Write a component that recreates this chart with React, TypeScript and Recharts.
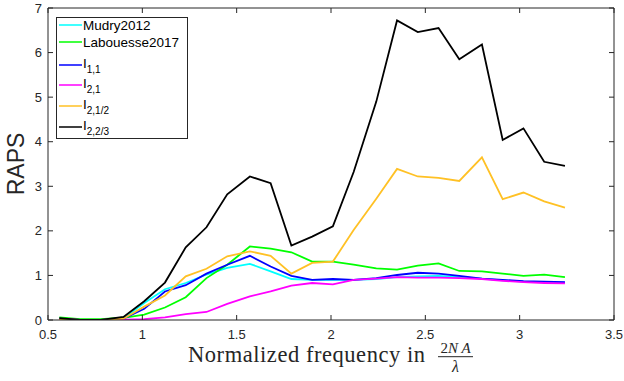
import React from "react";
import { LineChart, Line, XAxis, YAxis, Legend } from "recharts";

// normalized frequency (x) and RAPS curves
const freq = [0.56, 0.67, 0.78, 0.9, 1.01, 1.12, 1.23, 1.34, 1.45, 1.57, 1.68, 1.79, 1.9, 2.01, 2.12, 2.24, 2.35, 2.46, 2.57, 2.68, 2.8, 2.91, 3.02, 3.13, 3.24];
const mudry2012 = [0.03, 0.0, 0.0, 0.04, 0.38, 0.69, 0.83, 1.02, 1.17, 1.26, 1.09, 0.92, 0.9, 0.9, 0.9, 0.92, 0.96, 0.98, 0.99, 0.96, 0.93, 0.89, 0.86, 0.85, 0.84];
const labouesse2017 = [0.06, 0.02, 0.02, 0.05, 0.12, 0.28, 0.51, 0.94, 1.24, 1.65, 1.6, 1.52, 1.31, 1.31, 1.24, 1.16, 1.13, 1.22, 1.27, 1.1, 1.09, 1.04, 0.99, 1.02, 0.96];
const i11 = [0.03, 0.0, 0.0, 0.03, 0.25, 0.64, 0.78, 1.04, 1.24, 1.44, 1.2, 0.99, 0.9, 0.92, 0.9, 0.94, 1.01, 1.06, 1.04, 0.99, 0.93, 0.9, 0.87, 0.86, 0.85];
const i21 = [0.02, 0.0, 0.0, 0.01, 0.02, 0.06, 0.13, 0.18, 0.36, 0.53, 0.64, 0.77, 0.83, 0.8, 0.9, 0.93, 0.96, 0.95, 0.95, 0.94, 0.92, 0.88, 0.85, 0.83, 0.82];
const i2half = [0.02, 0.0, 0.0, 0.03, 0.3, 0.55, 0.98, 1.15, 1.43, 1.54, 1.44, 1.04, 1.28, 1.31, 2.02, 2.72, 3.39, 3.22, 3.19, 3.12, 3.65, 2.71, 2.86, 2.66, 2.52];
const i2twothird = [0.04, 0.0, 0.0, 0.07, 0.42, 0.84, 1.63, 2.08, 2.82, 3.22, 3.07, 1.67, 1.87, 2.1, 3.32, 4.9, 6.72, 6.46, 6.55, 5.85, 6.18, 4.04, 4.3, 3.55, 3.46];

const xTicks = [0.5, 1, 1.5, 2, 2.5, 3, 3.5];
const yTicks = [0, 1, 2, 3, 4, 5, 6, 7];

const SERIES = [
  { key: "mudry", name: "Mudry2012", sub: "", color: "#00ffff", values: mudry2012 },
  { key: "labouesse", name: "Labouesse2017", sub: "", color: "#00ff00", values: labouesse2017 },
  { key: "i11", name: "I", sub: "1,1", color: "#0000ff", values: i11 },
  { key: "i21", name: "I", sub: "2,1", color: "#ff00ff", values: i21 },
  { key: "i2half", name: "I", sub: "2,1/2", color: "#ffc125", values: i2half },
  { key: "i2twothird", name: "I", sub: "2,2/3", color: "#000000", values: i2twothird },
];

const data = freq.map((f, i) => {
  const row: any = { f };
  SERIES.forEach((s) => (row[s.key] = s.values[i]));
  return row;
});

const AXIS = "#262626";
const SANS = "'Liberation Sans', Arial, Helvetica, sans-serif";
const SERIF = "'Liberation Serif', 'Times New Roman', serif";

const BottomTick = (props: any) => {
  const { x, y, payload } = props;
  return (
    <g>
      <line x1={x} x2={x} y1={y} y2={y - 5} stroke={AXIS} />
      <text x={x} y={y + 19} textAnchor="middle" fontSize={13} fontFamily={SANS} fill={AXIS}>
        {payload.value}
      </text>
    </g>
  );
};

const TopTick = (props: any) => {
  const { x, y } = props;
  return <line x1={x} x2={x} y1={y} y2={y + 5} stroke={AXIS} />;
};

const LeftTick = (props: any) => {
  const { x, y, payload } = props;
  return (
    <g>
      <line x1={x} x2={x + 5} y1={y} y2={y} stroke={AXIS} />
      <text x={x - 6} y={y + 4.5} textAnchor="end" fontSize={13} fontFamily={SANS} fill={AXIS}>
        {payload.value}
      </text>
    </g>
  );
};

const RightTick = (props: any) => {
  const { x, y } = props;
  return <line x1={x} x2={x - 5} y1={y} y2={y} stroke={AXIS} />;
};

const XLabel = () => (
  <g fontFamily={SERIF} fill={AXIS}>
    <text x={188} y={362} fontSize={22.5} textLength={237} lengthAdjust="spacing">
      Normalized frequency in
    </text>
    <text x={455.5} y={353} textAnchor="middle" fontSize={15}>
      2<tspan fontStyle="italic">N A</tspan>
    </text>
    <line x1={438} x2={473} y1={356.7} y2={356.7} stroke={AXIS} />
    <text x={455.5} y={372} textAnchor="middle" fontSize={16} fontStyle="italic">
      λ
    </text>
  </g>
);

const YLabel = () => (
  <text x={24} y={164} transform="rotate(-90 24 164)" textAnchor="middle" fontSize={23} fontFamily={SANS} fill={AXIS}>
    RAPS
  </text>
);

const ROW_Y = [8, 25, 48, 68, 89, 110];

const LegendBox = () => (
  <svg width={132} height={122} style={{ display: "block" }}>
    <rect x={0.5} y={0.5} width={131} height={121} fill="#fff" stroke={AXIS} />
    {SERIES.map((s, i) => (
      <g key={s.key}>
        <line x1={3} x2={26} y1={ROW_Y[i]} y2={ROW_Y[i]} stroke={s.color} strokeWidth={1.5} />
        {s.sub ? (
          <text x={27} y={ROW_Y[i] + 3} fontSize={13.5} fontFamily={SANS} fill="#000">
            {s.name}
            <tspan dy={5} fontSize={10}>{s.sub}</tspan>
          </text>
        ) : (
          <text x={27} y={ROW_Y[i] + 5} fontSize={13.5} fontFamily={SANS} fill="#000">
            {s.name}
          </text>
        )}
      </g>
    ))}
  </svg>
);

export default function App() {
  return (
    <div style={{ position: "absolute", left: 0, top: 0, background: "#fff" }}>
      <LineChart width={624} height={381} data={data} margin={{ top: 0, right: 0, bottom: 0, left: 0 }}>
        <XAxis
          xAxisId="b"
          dataKey="f"
          type="number"
          domain={[0.5, 3.5]}
          ticks={xTicks}
          allowDataOverflow
          height={61}
          tickSize={0}
          tickMargin={0}
          tick={<BottomTick />}
          stroke={AXIS}
          interval={0}
          label={{ content: <XLabel /> }}
        />
        <XAxis
          xAxisId="t"
          orientation="top"
          dataKey="f"
          type="number"
          domain={[0.5, 3.5]}
          ticks={xTicks}
          allowDataOverflow
          height={8}
          tickSize={0}
          tickMargin={0}
          tick={<TopTick />}
          stroke={AXIS}
          interval={0}
        />
        <YAxis
          yAxisId="l"
          type="number"
          domain={[0, 7]}
          ticks={yTicks}
          allowDataOverflow
          width={48}
          tickSize={0}
          tickMargin={0}
          tick={<LeftTick />}
          stroke={AXIS}
          interval={0}
          label={{ content: <YLabel /> }}
        />
        <YAxis
          yAxisId="r"
          orientation="right"
          type="number"
          domain={[0, 7]}
          ticks={yTicks}
          allowDataOverflow
          width={10}
          tickSize={0}
          tickMargin={0}
          tick={<RightTick />}
          stroke={AXIS}
          interval={0}
        />
        <Legend
          layout="vertical"
          align="center"
          verticalAlign="middle"
          content={<LegendBox />}
          wrapperStyle={{ left: 56, top: 17, width: 132, height: 122 }}
        />
        {SERIES.map((s) => (
          <Line
            key={s.key}
            xAxisId="b"
            yAxisId="l"
            dataKey={s.key}
            name={s.sub ? `${s.name}_${s.sub}` : s.name}
            stroke={s.color}
            strokeWidth={1.8}
            dot={false}
            type="linear"
            isAnimationActive={false}
          />
        ))}
      </LineChart>
    </div>
  );
}
